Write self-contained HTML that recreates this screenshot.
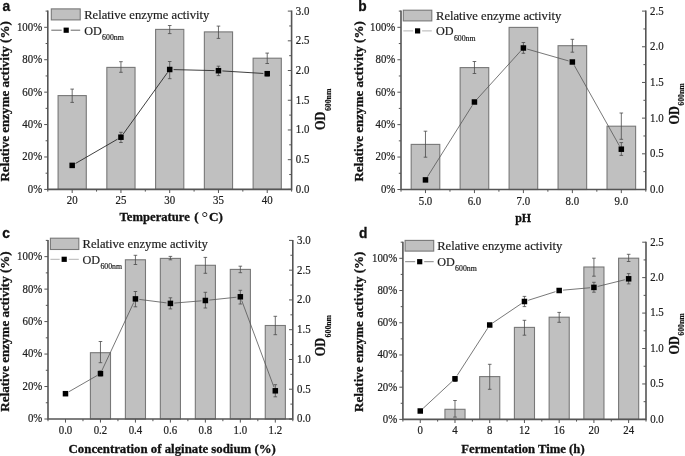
<!DOCTYPE html>
<html><head><meta charset="utf-8"><style>
html,body{margin:0;padding:0;background:#fff;width:685px;height:456px;overflow:hidden}
svg{display:block;will-change:transform;filter:blur(0.3px)}
.t{font-family:"Liberation Serif",serif;font-size:11.8px;fill:#1e1e1e;stroke:#1e1e1e;stroke-width:0.22px}
.b{font-family:"Liberation Serif",serif;font-size:13px;font-weight:bold;fill:#111;stroke:#111;stroke-width:0.3px}
.bs{font-family:"Liberation Serif",serif;font-size:7.8px;font-weight:bold;fill:#111;stroke:#111;stroke-width:0.15px}
.l{font-family:"Liberation Serif",serif;font-size:12.6px;fill:#1e1e1e;stroke:#1e1e1e;stroke-width:0.2px}
.ls{font-size:7.8px}
.p{font-family:"Liberation Sans",sans-serif;font-size:14.5px;font-weight:bold;fill:#111;stroke:#111;stroke-width:0.3px}
</style></head><body>
<svg width="685" height="456" viewBox="0 0 685 456">
<rect x="58.08" y="95.6" width="28.2" height="93.8" fill="#c0c0c0" stroke="#787878" stroke-width="1.1"/>
<rect x="106.84" y="67.4" width="28.2" height="122" fill="#c0c0c0" stroke="#787878" stroke-width="1.1"/>
<rect x="155.6" y="29.4" width="28.2" height="160" fill="#c0c0c0" stroke="#787878" stroke-width="1.1"/>
<rect x="204.36" y="31.9" width="28.2" height="157.5" fill="#c0c0c0" stroke="#787878" stroke-width="1.1"/>
<rect x="253.12" y="58.2" width="28.2" height="131.2" fill="#c0c0c0" stroke="#787878" stroke-width="1.1"/>
<path d="M72.18 89.1V102.4M70.38 89.1H73.98M70.38 102.4H73.98" stroke="#4a4a4a" stroke-width="0.8" fill="none"/>
<path d="M120.94 61.7V72.3M119.14 61.7H122.74M119.14 72.3H122.74" stroke="#4a4a4a" stroke-width="0.8" fill="none"/>
<path d="M169.7 25.5V33.6M167.9 25.5H171.5M167.9 33.6H171.5" stroke="#4a4a4a" stroke-width="0.8" fill="none"/>
<path d="M218.46 26.1V38.4M216.66 26.1H220.26M216.66 38.4H220.26" stroke="#4a4a4a" stroke-width="0.8" fill="none"/>
<path d="M267.22 53.1V63.5M265.42 53.1H269.02M265.42 63.5H269.02" stroke="#4a4a4a" stroke-width="0.8" fill="none"/>
<path d="M75.56 163.45L117.56 139.15M123.22 134.04L167.42 72.66M173.6 69.6L214.56 70.6M222.35 70.94L263.33 73.46" fill="none" stroke="#2a2a2a" stroke-width="0.9"/>
<path d="M120.94 132.3V142.5M119.14 132.3H122.74M119.14 142.5H122.74" stroke="#4a4a4a" stroke-width="0.8" fill="none"/>
<path d="M169.7 61.5V78.7M167.9 61.5H171.5M167.9 78.7H171.5" stroke="#4a4a4a" stroke-width="0.8" fill="none"/>
<path d="M218.46 66.2V75.6M216.66 66.2H220.26M216.66 75.6H220.26" stroke="#4a4a4a" stroke-width="0.8" fill="none"/>
<path d="M267.22 71.5V76M265.42 71.5H269.02M265.42 76H269.02" stroke="#4a4a4a" stroke-width="0.8" fill="none"/>
<rect x="69.43" y="162.65" width="5.5" height="5.5" fill="#000"/>
<rect x="118.19" y="134.45" width="5.5" height="5.5" fill="#000"/>
<rect x="166.95" y="66.75" width="5.5" height="5.5" fill="#000"/>
<rect x="215.71" y="67.95" width="5.5" height="5.5" fill="#000"/>
<rect x="264.47" y="70.95" width="5.5" height="5.5" fill="#000"/>
<path d="M47.8 10.6V189.4H291.6V10.6" stroke="#555" stroke-width="1.6" fill="none"/>
<path d="M44.2 189.4H47.8M45.6 173.19H47.8M44.2 156.98H47.8M45.6 140.77H47.8M44.2 124.56H47.8M45.6 108.35H47.8M44.2 92.15H47.8M45.6 75.94H47.8M44.2 59.73H47.8M45.6 43.52H47.8M44.2 27.31H47.8M45.6 11.1H47.8M287.8 189.4H291.6M289.2 174.54H291.6M287.8 159.68H291.6M289.2 144.82H291.6M287.8 129.97H291.6M289.2 115.11H291.6M287.8 100.25H291.6M289.2 85.39H291.6M287.8 70.53H291.6M289.2 55.68H291.6M287.8 40.82H291.6M289.2 25.96H291.6M287.8 11.1H291.6M72.18 189.4V193M120.94 189.4V193M169.7 189.4V193M218.46 189.4V193M267.22 189.4V193M47.8 189.4V191.6M96.56 189.4V191.6M145.32 189.4V191.6M194.08 189.4V191.6M242.84 189.4V191.6M291.6 189.4V191.6" stroke="#555" stroke-width="1" fill="none"/>
<text transform="translate(42.2 192.8) scale(0.92 1)" text-anchor="end" class="t">0%</text>
<text transform="translate(42.2 160.38) scale(0.92 1)" text-anchor="end" class="t">20%</text>
<text transform="translate(42.2 127.96) scale(0.92 1)" text-anchor="end" class="t">40%</text>
<text transform="translate(42.2 95.55) scale(0.92 1)" text-anchor="end" class="t">60%</text>
<text transform="translate(42.2 63.13) scale(0.92 1)" text-anchor="end" class="t">80%</text>
<text transform="translate(42.2 30.71) scale(0.92 1)" text-anchor="end" class="t">100%</text>
<text transform="translate(295.8 192.8) scale(0.92 1)" class="t">0.0</text>
<text transform="translate(295.8 163.08) scale(0.92 1)" class="t">0.5</text>
<text transform="translate(295.8 133.37) scale(0.92 1)" class="t">1.0</text>
<text transform="translate(295.8 103.65) scale(0.92 1)" class="t">1.5</text>
<text transform="translate(295.8 73.93) scale(0.92 1)" class="t">2.0</text>
<text transform="translate(295.8 44.22) scale(0.92 1)" class="t">2.5</text>
<text transform="translate(295.8 14.5) scale(0.92 1)" class="t">3.0</text>
<text transform="translate(72.18 204.2) scale(0.92 1)" text-anchor="middle" class="t">20</text>
<text transform="translate(120.94 204.2) scale(0.92 1)" text-anchor="middle" class="t">25</text>
<text transform="translate(169.7 204.2) scale(0.92 1)" text-anchor="middle" class="t">30</text>
<text transform="translate(218.46 204.2) scale(0.92 1)" text-anchor="middle" class="t">35</text>
<text transform="translate(267.22 204.2) scale(0.92 1)" text-anchor="middle" class="t">40</text>
<text x="119.6" y="221.2" class="b" style="font-size:13.2px" textLength="70.2" lengthAdjust="spacingAndGlyphs">Temperature</text>
<text transform="translate(9.4 181.6) rotate(-90)" class="b" style="font-size:13.5px" textLength="160.4" lengthAdjust="spacingAndGlyphs">Relative enzyme activity (%)</text>
<g transform="translate(325.3 130) rotate(-90)"><text class="b" x="0" y="0" style="font-size:14px" textLength="18.3" lengthAdjust="spacingAndGlyphs">OD</text><text class="bs" x="18.9" y="5.3">600nm</text></g>
<rect x="51.3" y="8.9" width="28.9" height="11" fill="#c0c0c0" stroke="#787878" stroke-width="1.1"/>
<text x="84.2" y="18.6" class="l">Relative enzyme activity</text>
<path d="M51.3 30.2H61.7M70.7 30.2H80.2" stroke="#555" stroke-width="0.9"/>
<rect x="63.6" y="27.6" width="5.2" height="5.2" fill="#000"/>
<text x="84.2" y="34.5" class="l"><tspan style="font-size:13.3px" textLength="17.6" lengthAdjust="spacingAndGlyphs">OD</tspan><tspan class="ls" dx="0.3" dy="5.4">600nm</tspan></text>
<text transform="translate(2.6 10.9) scale(0.95 1)" class="p">a</text>
<rect x="411.18" y="144.4" width="28.6" height="45.1" fill="#c0c0c0" stroke="#787878" stroke-width="1.1"/>
<rect x="460.14" y="67.6" width="28.6" height="121.9" fill="#c0c0c0" stroke="#787878" stroke-width="1.1"/>
<rect x="509.1" y="27.4" width="28.6" height="162.1" fill="#c0c0c0" stroke="#787878" stroke-width="1.1"/>
<rect x="558.06" y="45.7" width="28.6" height="143.8" fill="#c0c0c0" stroke="#787878" stroke-width="1.1"/>
<rect x="607.02" y="126.2" width="28.6" height="63.3" fill="#c0c0c0" stroke="#787878" stroke-width="1.1"/>
<path d="M425.48 131.2V157.2M423.68 131.2H427.28M423.68 157.2H427.28" stroke="#4a4a4a" stroke-width="0.8" fill="none"/>
<path d="M474.44 61.5V73.5M472.64 61.5H476.24M472.64 73.5H476.24" stroke="#4a4a4a" stroke-width="0.8" fill="none"/>
<path d="M572.36 39.3V52.2M570.56 39.3H574.16M570.56 52.2H574.16" stroke="#4a4a4a" stroke-width="0.8" fill="none"/>
<path d="M621.32 113V139.3M619.52 113H623.12M619.52 139.3H623.12" stroke="#4a4a4a" stroke-width="0.8" fill="none"/>
<path d="M427.56 176.6L472.36 105.3M477.06 99.11L520.78 50.89M527.15 49.07L568.61 60.93M574.27 65.4L619.41 145.8" fill="none" stroke="#555" stroke-width="0.8"/>
<path d="M523.4 42.5V53.3M521.6 42.5H525.2M521.6 53.3H525.2" stroke="#4a4a4a" stroke-width="0.8" fill="none"/>
<path d="M621.32 142.6V155.4M619.52 142.6H623.12M619.52 155.4H623.12" stroke="#4a4a4a" stroke-width="0.8" fill="none"/>
<rect x="422.73" y="177.15" width="5.5" height="5.5" fill="#000"/>
<rect x="471.69" y="99.25" width="5.5" height="5.5" fill="#000"/>
<rect x="520.65" y="45.25" width="5.5" height="5.5" fill="#000"/>
<rect x="569.61" y="59.25" width="5.5" height="5.5" fill="#000"/>
<rect x="618.57" y="146.45" width="5.5" height="5.5" fill="#000"/>
<path d="M401 10.6V189.5H645.8V10.6" stroke="#555" stroke-width="1.6" fill="none"/>
<path d="M397.4 189.5H401M398.8 173.28H401M397.4 157.06H401M398.8 140.85H401M397.4 124.63H401M398.8 108.41H401M397.4 92.19H401M398.8 75.97H401M397.4 59.75H401M398.8 43.54H401M397.4 27.32H401M398.8 11.1H401M642 189.5H645.8M643.4 171.66H645.8M642 153.82H645.8M643.4 135.98H645.8M642 118.14H645.8M643.4 100.3H645.8M642 82.46H645.8M643.4 64.62H645.8M642 46.78H645.8M643.4 28.94H645.8M642 11.1H645.8M425.48 189.5V193.1M474.44 189.5V193.1M523.4 189.5V193.1M572.36 189.5V193.1M621.32 189.5V193.1M401 189.5V191.7M449.96 189.5V191.7M498.92 189.5V191.7M547.88 189.5V191.7M596.84 189.5V191.7M645.8 189.5V191.7" stroke="#555" stroke-width="1" fill="none"/>
<text transform="translate(395.4 192.9) scale(0.92 1)" text-anchor="end" class="t">0%</text>
<text transform="translate(395.4 160.46) scale(0.92 1)" text-anchor="end" class="t">20%</text>
<text transform="translate(395.4 128.03) scale(0.92 1)" text-anchor="end" class="t">40%</text>
<text transform="translate(395.4 95.59) scale(0.92 1)" text-anchor="end" class="t">60%</text>
<text transform="translate(395.4 63.15) scale(0.92 1)" text-anchor="end" class="t">80%</text>
<text transform="translate(395.4 30.72) scale(0.92 1)" text-anchor="end" class="t">100%</text>
<text transform="translate(650 192.9) scale(0.92 1)" class="t">0.0</text>
<text transform="translate(650 157.22) scale(0.92 1)" class="t">0.5</text>
<text transform="translate(650 121.54) scale(0.92 1)" class="t">1.0</text>
<text transform="translate(650 85.86) scale(0.92 1)" class="t">1.5</text>
<text transform="translate(650 50.18) scale(0.92 1)" class="t">2.0</text>
<text transform="translate(650 14.5) scale(0.92 1)" class="t">2.5</text>
<text transform="translate(425.48 204.7) scale(0.92 1)" text-anchor="middle" class="t">5.0</text>
<text transform="translate(474.44 204.7) scale(0.92 1)" text-anchor="middle" class="t">6.0</text>
<text transform="translate(523.4 204.7) scale(0.92 1)" text-anchor="middle" class="t">7.0</text>
<text transform="translate(572.36 204.7) scale(0.92 1)" text-anchor="middle" class="t">8.0</text>
<text transform="translate(621.32 204.7) scale(0.92 1)" text-anchor="middle" class="t">9.0</text>
<text x="515.2" y="222.4" class="b" style="font-size:13.2px" textLength="16" lengthAdjust="spacingAndGlyphs">pH</text>
<text transform="translate(363 181.6) rotate(-90)" class="b" style="font-size:13.5px" textLength="160.4" lengthAdjust="spacingAndGlyphs">Relative enzyme activity (%)</text>
<g transform="translate(679.1 124.6) rotate(-90)"><text class="b" x="0" y="0" style="font-size:14px" textLength="18.3" lengthAdjust="spacingAndGlyphs">OD</text><text class="bs" x="18.9" y="5.3">600nm</text></g>
<rect x="403.3" y="10.2" width="28.5" height="10.7" fill="#c0c0c0" stroke="#787878" stroke-width="1.1"/>
<text x="436" y="19.5" class="l">Relative enzyme activity</text>
<path d="M403.3 30.9H413.1M422.1 30.9H431.8" stroke="#aaa" stroke-width="0.9"/>
<rect x="415" y="28.3" width="5.2" height="5.2" fill="#000"/>
<text x="436" y="35.4" class="l"><tspan style="font-size:13.3px" textLength="17.6" lengthAdjust="spacingAndGlyphs">OD</tspan><tspan class="ls" dx="0.3" dy="5.4">600nm</tspan></text>
<text transform="translate(358.3 11.2) scale(0.95 1)" class="p">b</text>
<rect x="90.41" y="352.7" width="20.1" height="66.3" fill="#c0c0c0" stroke="#787878" stroke-width="1.1"/>
<rect x="125.38" y="259.8" width="20.1" height="159.2" fill="#c0c0c0" stroke="#787878" stroke-width="1.1"/>
<rect x="160.35" y="258.4" width="20.1" height="160.6" fill="#c0c0c0" stroke="#787878" stroke-width="1.1"/>
<rect x="195.32" y="265.3" width="20.1" height="153.7" fill="#c0c0c0" stroke="#787878" stroke-width="1.1"/>
<rect x="230.29" y="269.4" width="20.1" height="149.6" fill="#c0c0c0" stroke="#787878" stroke-width="1.1"/>
<rect x="265.26" y="325.5" width="20.1" height="93.5" fill="#c0c0c0" stroke="#787878" stroke-width="1.1"/>
<path d="M100.46 341.5V362.7M98.66 341.5H102.26M98.66 362.7H102.26" stroke="#4a4a4a" stroke-width="0.8" fill="none"/>
<path d="M135.43 255.3V264.5M133.63 255.3H137.23M133.63 264.5H137.23" stroke="#4a4a4a" stroke-width="0.8" fill="none"/>
<path d="M170.4 256.4V259.8M168.6 256.4H172.2M168.6 259.8H172.2" stroke="#4a4a4a" stroke-width="0.8" fill="none"/>
<path d="M205.37 257.4V273.3M203.57 257.4H207.17M203.57 273.3H207.17" stroke="#4a4a4a" stroke-width="0.8" fill="none"/>
<path d="M240.34 266.2V272.7M238.54 266.2H242.14M238.54 272.7H242.14" stroke="#4a4a4a" stroke-width="0.8" fill="none"/>
<path d="M275.31 316.3V334.7M273.51 316.3H277.11M273.51 334.7H277.11" stroke="#4a4a4a" stroke-width="0.8" fill="none"/>
<path d="M68.87 391.76L97.08 375.54M102.11 370.07L133.77 302.43M139.3 299.4L166.53 302.9M174.29 303.08L201.48 300.82M209.25 300.09L236.46 297.21M241.7 300.46L273.95 387.14" fill="none" stroke="#555" stroke-width="0.8"/>
<path d="M100.46 371V376M98.66 371H102.26M98.66 376H102.26" stroke="#4a4a4a" stroke-width="0.8" fill="none"/>
<path d="M135.43 291.5V306.8M133.63 291.5H137.23M133.63 306.8H137.23" stroke="#4a4a4a" stroke-width="0.8" fill="none"/>
<path d="M170.4 297.8V308.9M168.6 297.8H172.2M168.6 308.9H172.2" stroke="#4a4a4a" stroke-width="0.8" fill="none"/>
<path d="M205.37 292.3V308M203.57 292.3H207.17M203.57 308H207.17" stroke="#4a4a4a" stroke-width="0.8" fill="none"/>
<path d="M240.34 290.3V304M238.54 290.3H242.14M238.54 304H242.14" stroke="#4a4a4a" stroke-width="0.8" fill="none"/>
<path d="M275.31 384.7V396.8M273.51 384.7H277.11M273.51 396.8H277.11" stroke="#4a4a4a" stroke-width="0.8" fill="none"/>
<rect x="62.74" y="390.95" width="5.5" height="5.5" fill="#000"/>
<rect x="97.71" y="370.85" width="5.5" height="5.5" fill="#000"/>
<rect x="132.68" y="296.15" width="5.5" height="5.5" fill="#000"/>
<rect x="167.65" y="300.65" width="5.5" height="5.5" fill="#000"/>
<rect x="202.62" y="297.75" width="5.5" height="5.5" fill="#000"/>
<rect x="237.59" y="294.05" width="5.5" height="5.5" fill="#000"/>
<rect x="272.56" y="388.05" width="5.5" height="5.5" fill="#000"/>
<path d="M48 239.9V419H292.8V239.9" stroke="#555" stroke-width="1.6" fill="none"/>
<path d="M44.4 419H48M45.8 402.76H48M44.4 386.53H48M45.8 370.29H48M44.4 354.05H48M45.8 337.82H48M44.4 321.58H48M45.8 305.35H48M44.4 289.11H48M45.8 272.87H48M44.4 256.64H48M45.8 240.4H48M289 419H292.8M290.4 404.12H292.8M289 389.23H292.8M290.4 374.35H292.8M289 359.47H292.8M290.4 344.58H292.8M289 329.7H292.8M290.4 314.82H292.8M289 299.93H292.8M290.4 285.05H292.8M289 270.17H292.8M290.4 255.28H292.8M289 240.4H292.8M65.49 419V422.6M100.46 419V422.6M135.43 419V422.6M170.4 419V422.6M205.37 419V422.6M240.34 419V422.6M275.31 419V422.6M48 419V421.2M82.97 419V421.2M117.94 419V421.2M152.91 419V421.2M187.89 419V421.2M222.86 419V421.2M257.83 419V421.2M292.8 419V421.2" stroke="#555" stroke-width="1" fill="none"/>
<text transform="translate(42.4 422.4) scale(0.92 1)" text-anchor="end" class="t">0%</text>
<text transform="translate(42.4 389.93) scale(0.92 1)" text-anchor="end" class="t">20%</text>
<text transform="translate(42.4 357.45) scale(0.92 1)" text-anchor="end" class="t">40%</text>
<text transform="translate(42.4 324.98) scale(0.92 1)" text-anchor="end" class="t">60%</text>
<text transform="translate(42.4 292.51) scale(0.92 1)" text-anchor="end" class="t">80%</text>
<text transform="translate(42.4 260.04) scale(0.92 1)" text-anchor="end" class="t">100%</text>
<text transform="translate(297 422.4) scale(0.92 1)" class="t">0.0</text>
<text transform="translate(297 392.63) scale(0.92 1)" class="t">0.5</text>
<text transform="translate(297 362.87) scale(0.92 1)" class="t">1.0</text>
<text transform="translate(297 333.1) scale(0.92 1)" class="t">1.5</text>
<text transform="translate(297 303.33) scale(0.92 1)" class="t">2.0</text>
<text transform="translate(297 273.57) scale(0.92 1)" class="t">2.5</text>
<text transform="translate(297 243.8) scale(0.92 1)" class="t">3.0</text>
<text transform="translate(65.49 433.8) scale(0.92 1)" text-anchor="middle" class="t">0.0</text>
<text transform="translate(100.46 433.8) scale(0.92 1)" text-anchor="middle" class="t">0.2</text>
<text transform="translate(135.43 433.8) scale(0.92 1)" text-anchor="middle" class="t">0.4</text>
<text transform="translate(170.4 433.8) scale(0.92 1)" text-anchor="middle" class="t">0.6</text>
<text transform="translate(205.37 433.8) scale(0.92 1)" text-anchor="middle" class="t">0.8</text>
<text transform="translate(240.34 433.8) scale(0.92 1)" text-anchor="middle" class="t">1.0</text>
<text transform="translate(275.31 433.8) scale(0.92 1)" text-anchor="middle" class="t">1.2</text>
<text x="68.6" y="452.6" class="b" style="font-size:13.2px" textLength="207.2" lengthAdjust="spacingAndGlyphs">Concentration of alginate sodium (%)</text>
<text transform="translate(9.4 411.7) rotate(-90)" class="b" style="font-size:13.5px" textLength="160.4" lengthAdjust="spacingAndGlyphs">Relative enzyme activity (%)</text>
<g transform="translate(325.3 356.3) rotate(-90)"><text class="b" x="0" y="0" style="font-size:14px" textLength="18.3" lengthAdjust="spacingAndGlyphs">OD</text><text class="bs" x="18.9" y="5.3">600nm</text></g>
<rect x="50.4" y="238.2" width="28.4" height="11.3" fill="#c0c0c0" stroke="#787878" stroke-width="1.1"/>
<text x="82.5" y="247.6" class="l">Relative enzyme activity</text>
<path d="M50.4 259.3H59.7M68.7 259.3H78.8" stroke="#aaa" stroke-width="0.9"/>
<rect x="61.6" y="256.7" width="5.2" height="5.2" fill="#000"/>
<text x="82.5" y="263.8" class="l"><tspan style="font-size:13.3px" textLength="17.6" lengthAdjust="spacingAndGlyphs">OD</tspan><tspan class="ls" dx="0.3" dy="5.4">600nm</tspan></text>
<text transform="translate(2.3 238.4) scale(0.95 1)" class="p">c</text>
<rect x="444.94" y="409.3" width="20.1" height="10.1" fill="#c0c0c0" stroke="#787878" stroke-width="1.1"/>
<rect x="479.67" y="376.6" width="20.1" height="42.8" fill="#c0c0c0" stroke="#787878" stroke-width="1.1"/>
<rect x="514.4" y="327.4" width="20.1" height="92" fill="#c0c0c0" stroke="#787878" stroke-width="1.1"/>
<rect x="549.13" y="317.2" width="20.1" height="102.2" fill="#c0c0c0" stroke="#787878" stroke-width="1.1"/>
<rect x="583.86" y="267" width="20.1" height="152.4" fill="#c0c0c0" stroke="#787878" stroke-width="1.1"/>
<rect x="618.59" y="258.2" width="20.1" height="161.2" fill="#c0c0c0" stroke="#787878" stroke-width="1.1"/>
<path d="M454.99 400.5V417.1M453.19 400.5H456.79M453.19 417.1H456.79" stroke="#4a4a4a" stroke-width="0.8" fill="none"/>
<path d="M489.72 364.3V389.3M487.92 364.3H491.52M487.92 389.3H491.52" stroke="#4a4a4a" stroke-width="0.8" fill="none"/>
<path d="M524.45 320.3V335.2M522.65 320.3H526.25M522.65 335.2H526.25" stroke="#4a4a4a" stroke-width="0.8" fill="none"/>
<path d="M559.18 312.4V322.3M557.38 312.4H560.98M557.38 322.3H560.98" stroke="#4a4a4a" stroke-width="0.8" fill="none"/>
<path d="M593.91 258.2V276.2M592.11 258.2H595.71M592.11 276.2H595.71" stroke="#4a4a4a" stroke-width="0.8" fill="none"/>
<path d="M628.64 254.3V261.5M626.84 254.3H630.44M626.84 261.5H630.44" stroke="#4a4a4a" stroke-width="0.8" fill="none"/>
<path d="M423.12 408.35L452.13 381.45M457.11 375.52L487.61 328.28M492.95 322.81L521.22 303.69M528.17 300.32L555.46 291.68M563.06 290.15L590.02 287.75M597.69 286.46L624.85 279.74" fill="none" stroke="#555" stroke-width="0.8"/>
<path d="M454.99 376.5V381.5M453.19 376.5H456.79M453.19 381.5H456.79" stroke="#4a4a4a" stroke-width="0.8" fill="none"/>
<path d="M524.45 296.4V306.6M522.65 296.4H526.25M522.65 306.6H526.25" stroke="#4a4a4a" stroke-width="0.8" fill="none"/>
<path d="M593.91 282.3V292.2M592.11 282.3H595.71M592.11 292.2H595.71" stroke="#4a4a4a" stroke-width="0.8" fill="none"/>
<path d="M628.64 273.6V283.9M626.84 273.6H630.44M626.84 283.9H630.44" stroke="#4a4a4a" stroke-width="0.8" fill="none"/>
<rect x="417.51" y="408.25" width="5.5" height="5.5" fill="#000"/>
<rect x="452.24" y="376.05" width="5.5" height="5.5" fill="#000"/>
<rect x="486.97" y="322.25" width="5.5" height="5.5" fill="#000"/>
<rect x="521.7" y="298.75" width="5.5" height="5.5" fill="#000"/>
<rect x="556.43" y="287.75" width="5.5" height="5.5" fill="#000"/>
<rect x="591.16" y="284.65" width="5.5" height="5.5" fill="#000"/>
<rect x="625.89" y="276.05" width="5.5" height="5.5" fill="#000"/>
<path d="M402.9 241.7V419.4H646V241.7" stroke="#555" stroke-width="1.6" fill="none"/>
<path d="M399.3 419.4H402.9M400.7 403.29H402.9M399.3 387.18H402.9M400.7 371.07H402.9M399.3 354.96H402.9M400.7 338.85H402.9M399.3 322.75H402.9M400.7 306.64H402.9M399.3 290.53H402.9M400.7 274.42H402.9M399.3 258.31H402.9M400.7 242.2H402.9M642.2 419.4H646M643.6 401.68H646M642.2 383.96H646M643.6 366.24H646M642.2 348.52H646M643.6 330.8H646M642.2 313.08H646M643.6 295.36H646M642.2 277.64H646M643.6 259.92H646M642.2 242.2H646M420.26 419.4V423M454.99 419.4V423M489.72 419.4V423M524.45 419.4V423M559.18 419.4V423M593.91 419.4V423M628.64 419.4V423M402.9 419.4V421.6M437.63 419.4V421.6M472.36 419.4V421.6M507.09 419.4V421.6M541.81 419.4V421.6M576.54 419.4V421.6M611.27 419.4V421.6M646 419.4V421.6" stroke="#555" stroke-width="1" fill="none"/>
<text transform="translate(397.3 422.8) scale(0.92 1)" text-anchor="end" class="t">0%</text>
<text transform="translate(397.3 390.58) scale(0.92 1)" text-anchor="end" class="t">20%</text>
<text transform="translate(397.3 358.36) scale(0.92 1)" text-anchor="end" class="t">40%</text>
<text transform="translate(397.3 326.15) scale(0.92 1)" text-anchor="end" class="t">60%</text>
<text transform="translate(397.3 293.93) scale(0.92 1)" text-anchor="end" class="t">80%</text>
<text transform="translate(397.3 261.71) scale(0.92 1)" text-anchor="end" class="t">100%</text>
<text transform="translate(650.2 422.8) scale(0.92 1)" class="t">0.0</text>
<text transform="translate(650.2 387.36) scale(0.92 1)" class="t">0.5</text>
<text transform="translate(650.2 351.92) scale(0.92 1)" class="t">1.0</text>
<text transform="translate(650.2 316.48) scale(0.92 1)" class="t">1.5</text>
<text transform="translate(650.2 281.04) scale(0.92 1)" class="t">2.0</text>
<text transform="translate(650.2 245.6) scale(0.92 1)" class="t">2.5</text>
<text transform="translate(420.26 434.2) scale(0.92 1)" text-anchor="middle" class="t">0</text>
<text transform="translate(454.99 434.2) scale(0.92 1)" text-anchor="middle" class="t">4</text>
<text transform="translate(489.72 434.2) scale(0.92 1)" text-anchor="middle" class="t">8</text>
<text transform="translate(524.45 434.2) scale(0.92 1)" text-anchor="middle" class="t">12</text>
<text transform="translate(559.18 434.2) scale(0.92 1)" text-anchor="middle" class="t">16</text>
<text transform="translate(593.91 434.2) scale(0.92 1)" text-anchor="middle" class="t">20</text>
<text transform="translate(628.64 434.2) scale(0.92 1)" text-anchor="middle" class="t">24</text>
<text x="461.3" y="453.1" class="b" style="font-size:13.2px" textLength="123.3" lengthAdjust="spacingAndGlyphs">Fermentation Time (h)</text>
<text transform="translate(363.2 412) rotate(-90)" class="b" style="font-size:13.5px" textLength="160.4" lengthAdjust="spacingAndGlyphs">Relative enzyme activity (%)</text>
<g transform="translate(679.1 354.6) rotate(-90)"><text class="b" x="0" y="0" style="font-size:14px" textLength="18.3" lengthAdjust="spacingAndGlyphs">OD</text><text class="bs" x="18.9" y="5.3">600nm</text></g>
<rect x="405.1" y="240.4" width="28.6" height="10.7" fill="#c0c0c0" stroke="#787878" stroke-width="1.1"/>
<text x="437.2" y="249.7" class="l">Relative enzyme activity</text>
<path d="M405.1 261.7H415.2M424.2 261.7H433.7" stroke="#777" stroke-width="0.9"/>
<rect x="417.1" y="259.1" width="5.2" height="5.2" fill="#000"/>
<text x="437.2" y="265.8" class="l"><tspan style="font-size:13.3px" textLength="17.6" lengthAdjust="spacingAndGlyphs">OD</tspan><tspan class="ls" dx="0.3" dy="5.4">600nm</tspan></text>
<text transform="translate(358.9 237.9) scale(0.95 1)" class="p">d</text>
<text x="194.2" y="221.2" class="b" style="font-size:13.2px">(</text>
<text x="201.5" y="222.6" class="b" style="font-size:16.5px;font-weight:normal;stroke-width:0">°</text>
<text x="208.9" y="221.2" class="b" style="font-size:13.2px">C</text>
<text x="218.4" y="221.2" class="b" style="font-size:13.2px">)</text>
</svg>
</body></html>
